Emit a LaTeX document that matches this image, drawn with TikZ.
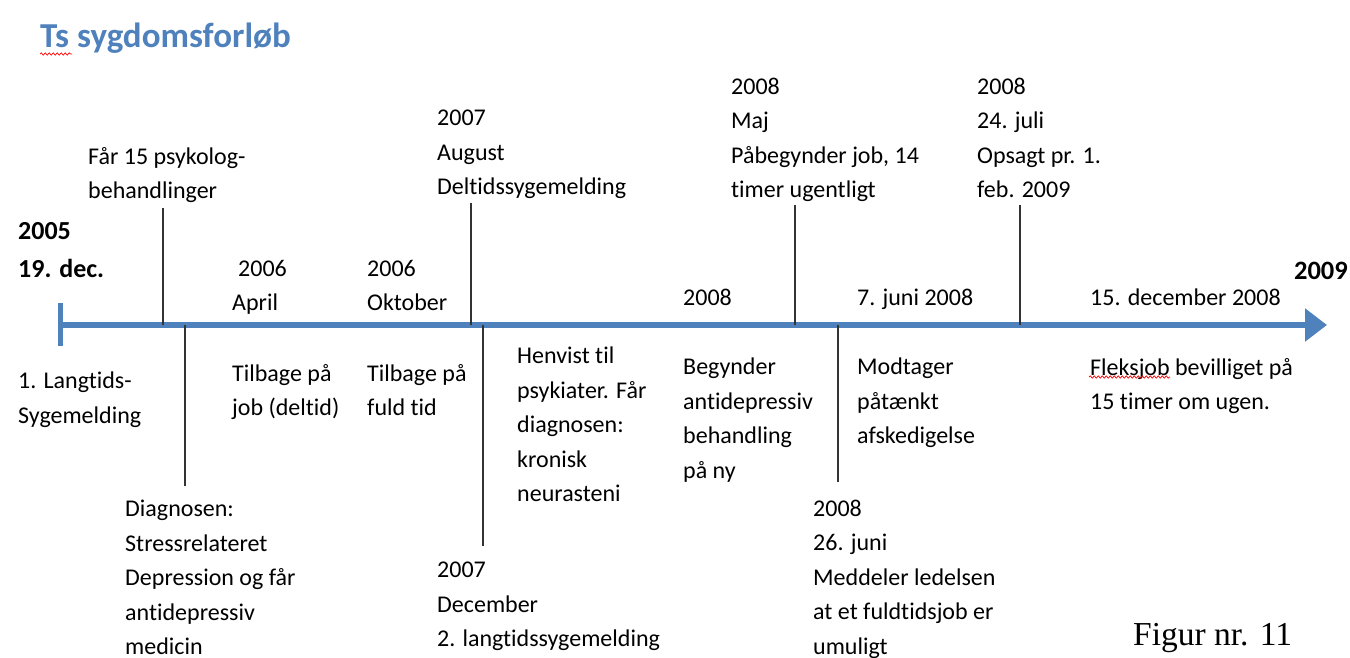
\documentclass[tikz,border=0pt]{standalone}
\usepackage{fontspec}
\setmainfont[Ligatures=NoCommon]{Carlito}
\newfontfamily\capfont{Liberation Serif}
\usetikzlibrary{arrows.meta,decorations.pathmorphing}
\definecolor{axisblue}{HTML}{4F81BD}
\definecolor{stemgray}{HTML}{333333}
\definecolor{titleblue}{HTML}{4F81BD}

\begin{document}
\begin{tikzpicture}[x=1pt,y=-1pt,
  lbl/.style={anchor=north west, inner sep=0pt, align=left, yshift=16.2pt,
              font=\fontsize{24}{34.5}\selectfont, text=black},
  boldlbl/.style={lbl, font=\fontsize{26}{38}\selectfont\bfseries},
  stemline/.style={draw=stemgray, line width=2pt},
  timeline/.style={draw=axisblue, line width=6pt, -{Triangle[length=22pt,width=32pt]}},
  squiggle/.style={draw=red, line width=0.7pt, decorate,
                   decoration={snake, amplitude=1.2pt, segment length=4pt}}]

\useasboundingbox (0,0) rectangle (1350,658);
\clip (0,0) rectangle (1350,658);

% title
\node[anchor=base west, inner sep=0pt, text=titleblue,
      font=\fontsize{35}{40}\selectfont\bfseries] (title) at (40,48) {Ts sygdomsforløb};
\coordinate (tsq1) at (40,54);
\coordinate (tsq2) at (72,54);
\draw[squiggle] (tsq1) -- (tsq2);

% time axis
\coordinate (t0) at (60,325);
\coordinate (tend) at (1327,325);
\coordinate (tick1) at (60,303);
\coordinate (tick2) at (60,346);
\draw[timeline] (t0) -- (tend);
\draw[axisblue, line width=5pt] (tick1) -- (tick2);

% stems from the axis to the events
\coordinate (a1) at (163,325); \coordinate (e1) at (163,208);
\coordinate (a2) at (185,325); \coordinate (e2) at (185,486);
\coordinate (a3) at (471,325); \coordinate (e3) at (471,203);
\coordinate (a4) at (483,325); \coordinate (e4) at (483,546);
\coordinate (a5) at (795,325); \coordinate (e5) at (795,205);
\coordinate (a6) at (838,325); \coordinate (e6) at (838,482);
\coordinate (a7) at (1020,325); \coordinate (e7) at (1020,205);
\foreach \i in {1,...,7} \draw[stemline] (a\i) -- (e\i);

% labels above the axis
\node[boldlbl] (start) at (18,238) {2005\\19. dec.};
\node[lbl] (psyk) at (88,163) {Får 15 psykolog-\\behandlinger};
\node[lbl] (apr) at (232,276) {\hspace*{6pt}2006\\April};
\node[lbl] (okt) at (367,276) {2006\\Oktober};
\node[lbl] (aug) at (437,126) {2007\\August\\Deltidssygemelding};
\node[lbl] (y08) at (683,305) {2008};
\node[lbl] (maj) at (731,94) {2008\\Maj\\Påbegynder job, 14\\timer ugentligt};
\node[lbl] (jun7) at (857,305) {7. juni 2008};
\node[lbl] (jul) at (977,94) {2008\\24. juli\\Opsagt pr. 1.\\feb. 2009};
\node[lbl] (dec15) at (1090,305) {15. december 2008};
\node[anchor=base east, inner sep=0pt, font=\fontsize{26.5}{38}\selectfont\bfseries] (end) at (1348,279) {2009};

% labels below the axis
\node[lbl] (lang1) at (18,388) {1. Langtids-\\Sygemelding};
\node[lbl] (tilb1) at (232,380) {Tilbage på\\job (deltid)};
\node[lbl] (tilb2) at (367,380) {Tilbage på\\fuld tid};
\node[lbl] (henv) at (517,363) {Henvist til\\psykiater. Får\\diagnosen:\\kronisk\\neurasteni};
\node[lbl] (begy) at (683,374) {Begynder\\antidepressiv\\behandling\\på ny};
\node[lbl] (modt) at (857,374) {Modtager\\påtænkt\\afskedigelse};
\node[lbl] (fleks) at (1090,374) {Fleksjob bevilliget på\\15 timer om ugen.};
\coordinate (fsq1) at (1089,377);
\coordinate (fsq2) at (1170,377);
\draw[squiggle] (fsq1) -- (fsq2);

\node[lbl] (diag) at (125,516) {Diagnosen:\\Stressrelateret\\Depression og får\\antidepressiv\\medicin};
\node[lbl] (dec) at (437,578) {2007\\December\\2. langtidssygemelding};
\node[lbl] (jun26) at (813,516) {2008\\26. juni\\Meddeler ledelsen\\at et fuldtidsjob er\\umuligt};

% caption
\node[anchor=base west, inner sep=0pt, font=\capfont\fontsize{33.5}{40}\selectfont] (fig) at (1133,645) {Figur nr. 11};
\end{tikzpicture}
\end{document}
